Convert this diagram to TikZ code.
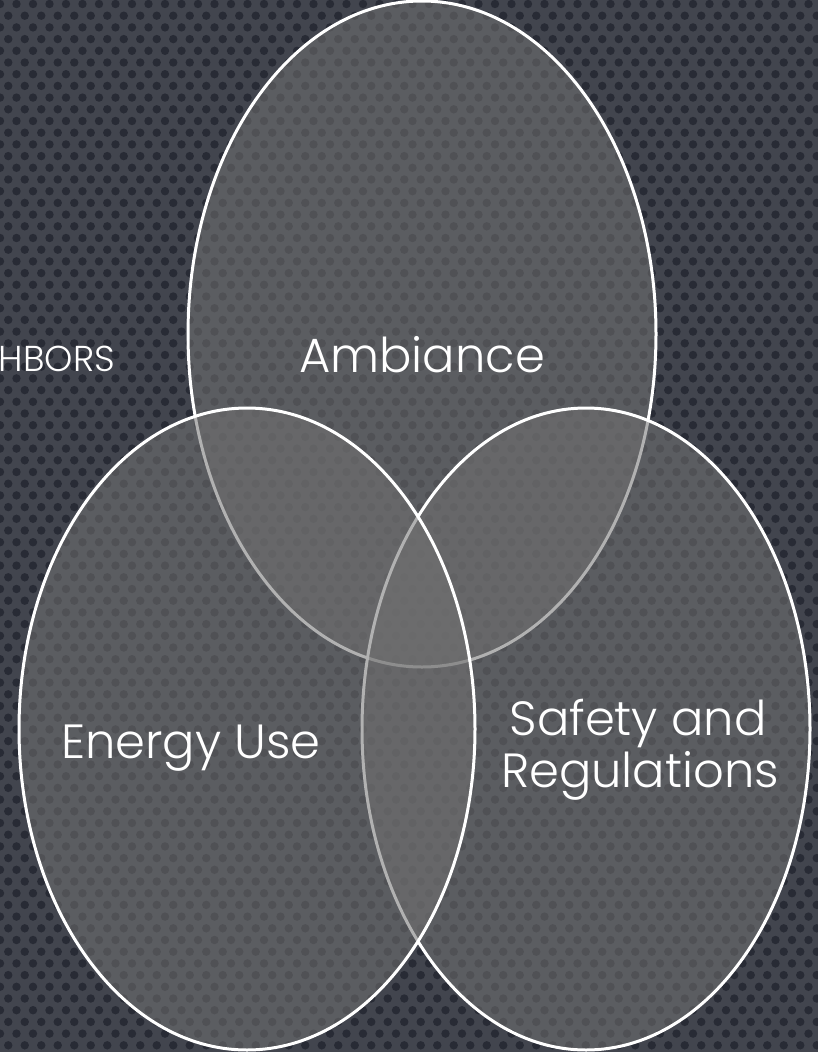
\documentclass[tikz,border=0pt]{standalone}
\usepackage{fontspec}
\setmainfont{Poppins Light}
\begin{document}
\begin{tikzpicture}[x=1pt,y=-1pt,
  bgc/.style={fill={rgb,255:red,66;green,69;blue,78}},
  dotc/.style={fill={rgb,255:red,40;green,43;blue,53}},
  venn/.style={draw=white,line width=3pt,fill={rgb,255:red,113;green,113;blue,113},fill opacity=0.55},
  lbl/.style={text=white,font=\fontsize{48}{56}\selectfont,align=center,inner sep=0pt}]
\useasboundingbox (0,0) rectangle (818,1052);
\fill[bgc] (0,0) rectangle (818,1052);
\foreach \j in {0,...,90}{
  \pgfmathsetmacro{\yy}{4+\j*11.7}
  \pgfmathsetmacro{\xo}{mod(\j,2)*8.25}
  \foreach \i in {0,...,50}{
    \fill[dotc] (\i*16.5+\xo,\yy) circle[radius=4.2];
  }
}
\path[venn] (422,334) ellipse[x radius=234,y radius=333];
\path[venn] (586,729) ellipse[x radius=224,y radius=321];
\path[venn] (247,729) ellipse[x radius=228,y radius=321];
\node[lbl,anchor=base] (amb) at (422,372) {Ambiance};
\node[lbl,anchor=base] (eng) at (191,758) {Energy Use};
\node[lbl,anchor=base] (saf) at (638,735) {Safety and};
\node[lbl,anchor=base] (reg) at (640,787) {Regulations};
\node[text=white,font=\fontsize{36}{42}\selectfont,inner sep=0pt,anchor=base east] (nb) at (115,371) {HBORS};
\end{tikzpicture}
\end{document}
